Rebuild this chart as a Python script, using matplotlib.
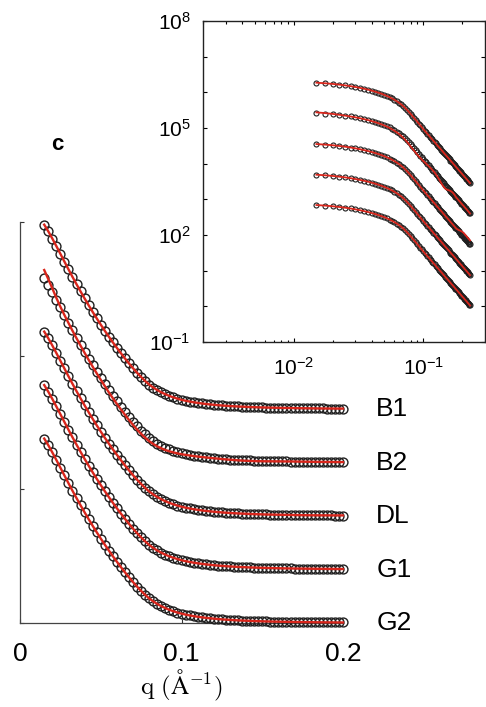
import matplotlib
matplotlib.use("Agg")
import matplotlib.pyplot as plt
import numpy as np
from matplotlib.ticker import FixedLocator, FuncFormatter, NullFormatter, LogLocator

plt.rcParams['font.family'] = ['Liberation Sans', 'DejaVu Sans']
plt.rcParams['mathtext.fontset'] = 'custom'
plt.rcParams['mathtext.rm'] = 'Liberation Sans'
plt.rcParams['mathtext.it'] = 'Liberation Sans:italic'

# ---- data -------------------------------------------------------------
samples = ['B1', 'B2', 'DL', 'G1', 'G2']

# scattering vector (1/Angstrom)
q = [0.0150, 0.0175, 0.0200, 0.0225, 0.0250, 0.0275, 0.0300, 0.0325, 0.0350, 0.0375,
     0.0400, 0.0425, 0.0450, 0.0475, 0.0500, 0.0525, 0.0550, 0.0575, 0.0600, 0.0625,
     0.0650, 0.0675, 0.0700, 0.0725, 0.0750, 0.0775, 0.0800, 0.0825, 0.0850, 0.0875,
     0.0900, 0.0925, 0.0950, 0.0975, 0.1000, 0.1025, 0.1050, 0.1075, 0.1100, 0.1125,
     0.1150, 0.1175, 0.1200, 0.1225, 0.1250, 0.1275, 0.1300, 0.1325, 0.1350, 0.1375,
     0.1400, 0.1425, 0.1450, 0.1475, 0.1500, 0.1525, 0.1550, 0.1575, 0.1600, 0.1625,
     0.1650, 0.1675, 0.1700, 0.1725, 0.1750, 0.1775, 0.1800, 0.1825, 0.1850, 0.1875,
     0.1900, 0.1925, 0.1950, 0.1975, 0.2000, 0.2025, 0.2050, 0.2075, 0.2100, 0.2125,
     0.2150, 0.2175, 0.2200, 0.2225, 0.2250, 0.2275, 0.2300]

# measured intensity normalised to its first point, I(q)/I(q_min)
I_norm = [1.000, 0.964, 0.925, 0.884, 0.842, 0.800, 0.758, 0.717, 0.677, 0.638,
          0.600, 0.563, 0.527, 0.492, 0.458, 0.425, 0.393, 0.362, 0.332, 0.303,
          0.2748, 0.2476, 0.2216, 0.1970, 0.1740, 0.1527, 0.1332, 0.1172, 0.1032, 0.0911,
          0.0806, 0.0715, 0.0636, 0.0567, 0.0506, 0.0456, 0.0412, 0.0373, 0.0339, 0.0309,
          0.0281, 0.0257, 0.0235, 0.0216, 0.0198, 0.0182, 0.0168, 0.0155, 0.0144, 0.0133,
          0.0124, 0.0114, 0.0106, 0.00986, 0.00922, 0.00860, 0.00803, 0.00751, 0.00703, 0.00658,
          0.00618, 0.00580, 0.00545, 0.00512, 0.00482, 0.00454, 0.00429, 0.00405, 0.00382, 0.00360,
          0.00341, 0.00324, 0.00306, 0.00290, 0.00276, 0.00261, 0.00249, 0.00236, 0.00224, 0.00214,
          0.00204, 0.00194, 0.00184, 0.00176, 0.00168, 0.00160, 0.00153]

# forward intensity of each sample, log10 I(q_min)
logI0 = [6.27, 5.42, 4.55, 3.69, 2.84]

# model fits (same normalisation); the other samples follow their data
fit_B2 = [1.044, 0.995, 0.945, 0.893, 0.845, 0.800, 0.757, 0.715, 0.674, 0.634,
          0.595, 0.557, 0.520, 0.484, 0.449, 0.415, 0.381, 0.349, 0.318, 0.288,
          0.259, 0.231, 0.204, 0.179, 0.156, 0.135, 0.116, 0.101, 0.088, 0.0775,
          0.0685, 0.0612, 0.0552, 0.0500, 0.0455, 0.0418, 0.0385, 0.0355, 0.0328, 0.0303,
          0.0279, 0.0257, 0.0235, 0.0216, 0.0194, 0.0175, 0.0156, 0.0140, 0.0124, 0.0110,
          0.0099, 0.0090, 0.00827, 0.00769, 0.00738, 0.00714, 0.00699, 0.00683, 0.00668, 0.00651,
          0.00630, 0.00603, 0.00572, 0.00538, 0.00501, 0.00463, 0.00429, 0.00405, 0.00382, 0.00360,
          0.00341, 0.00324, 0.00306, 0.00290, 0.00276, 0.00261, 0.00249, 0.00236, 0.00224, 0.00214,
          0.00204, 0.00194, 0.00184, 0.00176, 0.00168, 0.00160, 0.00153]

fit_DL = [1.000, 0.964, 0.925, 0.884, 0.842, 0.800, 0.758, 0.717, 0.677, 0.638,
          0.600, 0.563, 0.527, 0.492, 0.458, 0.425, 0.393, 0.362, 0.332, 0.303,
          0.2748, 0.2476, 0.2216, 0.1970, 0.1740, 0.1527, 0.1332, 0.1172, 0.1032, 0.0911,
          0.0806, 0.0715, 0.0636, 0.0567, 0.0506, 0.0456, 0.0412, 0.0373, 0.0339, 0.0309,
          0.0281, 0.0257, 0.0235, 0.0216, 0.0198, 0.0182, 0.0168, 0.0155, 0.0144, 0.0133,
          0.0124, 0.0114, 0.0106, 0.00986, 0.00922, 0.00860, 0.00803, 0.00751, 0.00703, 0.00658,
          0.00618, 0.00580, 0.00545, 0.00512, 0.00482, 0.00454, 0.00429, 0.00413, 0.00401, 0.00389,
          0.00382, 0.00376, 0.00367, 0.00357, 0.00348, 0.00334, 0.00324, 0.00307, 0.00291, 0.00278,
          0.00265, 0.00252, 0.00239, 0.00229, 0.00218, 0.00208, 0.00199]

fits = {'B2': fit_B2, 'DL': fit_DL}

# ---- styling constants ------------------------------------------------
RED = '#d9261c'
EDGE = '#1f1f1f'
STACK = 0.4      # vertical shift between stacked curves
SCALE = 1.38     # height of a normalised curve in the stacked panel

q = np.asarray(q)
I_norm = np.asarray(I_norm)
in_main = q <= 0.2001

fig = plt.figure(figsize=(4.86, 7.07), dpi=100)

# ---- stacked linear panel --------------------------------------------
ax = fig.add_axes([20 / 486, 1 - 623 / 707, 323 / 486, 401 / 707])
for i, name in enumerate(samples):
    shift = STACK * (len(samples) - 1 - i)
    y = I_norm * SCALE + shift
    f = np.asarray(fits.get(name, I_norm)) * SCALE + shift
    ax.plot(q[in_main], y[in_main], 'o', ms=6.4, mfc='none', mec=EDGE, mew=1.0,
            clip_on=False, zorder=3)
    ax.plot(q[in_main], f[in_main], '-', color=RED, lw=1.7, clip_on=False, zorder=4)
    ax.annotate(name, xy=(0.2, shift), xytext=(24, 0), textcoords='offset points',
                ha='left', va='center', fontsize=19, annotation_clip=False)

ax.set_xlim(0, 0.2)
ax.set_ylim(0, 3)
ax.set_xticks([0, 0.1, 0.2])
ax.set_xticklabels(['0', '0.1', '0.2'])
ax.set_yticks([0, 1, 2, 3])
ax.set_yticklabels([])
ax.tick_params(direction='in', length=3, width=0.8, labelsize=19, pad=14, colors='#333333',
               labelcolor='black')
for s in ('top', 'right'):
    ax.spines[s].set_visible(False)
for s in ('left', 'bottom'):
    ax.spines[s].set_color('#444444')
    ax.spines[s].set_linewidth(0.9)
ax.set_xlabel(r'$\mathrm{q\ (\AA^{-1})}$', fontsize=18, math_fontfamily='cm', labelpad=1)

fig.text(57 / 486, 1 - 145 / 707, 'c', fontsize=16, fontweight='bold', ha='center', va='center')

# ---- log-log inset ----------------------------------------------------
ins = fig.add_axes([203 / 486, 1 - 342 / 707, 282 / 486, 321 / 707])
for i, name in enumerate(samples):
    I0 = 10 ** logI0[i]
    ins.plot(q, I_norm * I0, 'o', ms=3.6, mfc='none', mec=EDGE, mew=0.8, zorder=3)
    ins.plot(q, np.asarray(fits.get(name, I_norm)) * I0, '-', color=RED, lw=1.3, zorder=4)

ins.set_xscale('log')
ins.set_yscale('log')
ins.set_xlim(2e-3, 3e-1)
ins.set_ylim(1e-1, 1e8)

decades = list(range(-1, 9))
ins.yaxis.set_major_locator(FixedLocator([10.0 ** k for k in decades]))
ins.yaxis.set_major_formatter(FuncFormatter(
    lambda v, p: r'$\mathdefault{10^{%d}}$' % round(np.log10(v))
    if round(np.log10(v)) in (-1, 2, 5, 8) else ''))
ins.yaxis.set_minor_locator(FixedLocator([]))
ins.xaxis.set_major_locator(FixedLocator([1e-2, 1e-1]))
ins.xaxis.set_minor_locator(LogLocator(base=10, subs=np.arange(2, 10)))
ins.xaxis.set_minor_formatter(NullFormatter())
ins.tick_params(which='both', direction='in', top=True, right=True, labelsize=15,
                width=0.8)
ins.tick_params(which='major', length=3)
ins.tick_params(which='minor', length=1.8)
ins.tick_params(axis='x', pad=11)
ins.tick_params(axis='y', pad=9)
for s in ins.spines.values():
    s.set_linewidth(1.0)
    s.set_color('#222222')

fig.savefig('out.png', dpi=100)
